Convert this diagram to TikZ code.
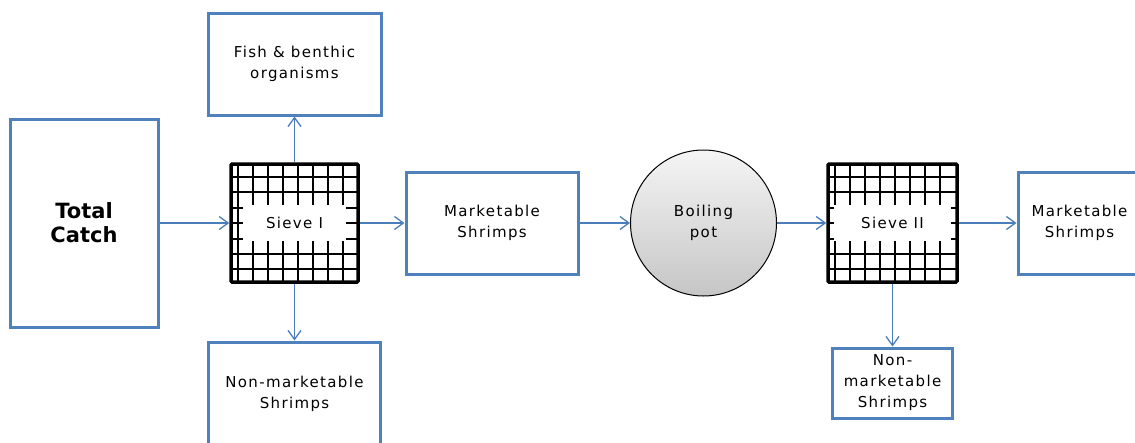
\documentclass[tikz,border=0pt]{standalone}
\usepackage{fontspec}
\setsansfont[LetterSpace=9]{DejaVu Sans}
\newfontfamily\headfont{DejaVu Sans}
\usetikzlibrary{arrows.meta}
\definecolor{boxblue}{RGB}{79,129,189}
\definecolor{flowblue}{RGB}{74,126,187}

\begin{document}
\begin{tikzpicture}[x=1pt, y=-1pt,
    flowbox/.style={draw=boxblue, line width=3pt, fill=white, inner sep=0pt, align=center,
        font=\sffamily\fontsize{15}{21}\selectfont},
    sieve/.style={draw=black, line width=3.5pt, fill=white, inner sep=0pt, rounded corners=1pt,
        minimum width=#1, minimum height=118,
        path picture={
          \foreach \i in {0,...,7}
            \draw[line width=1.9pt] ([xshift={7pt+\i*15pt}]path picture bounding box.north west)
                -- ([xshift={7pt+\i*15pt}]path picture bounding box.south west);
          \foreach \j in {0,...,6}
            \draw[line width=1.9pt] ([yshift={-13pt-\j*15.4pt}]path picture bounding box.north west)
                -- ([yshift={-13pt-\j*15.4pt}]path picture bounding box.north east);
        }},
    sievelabel/.style={fill=white, inner sep=0pt, minimum height=36,
        font=\sffamily\fontsize{15}{21}\selectfont},
    flow/.style={draw=flowblue, line width=1.3pt, -{Straight Barb[length=9pt, width=13pt]}}]
  \useasboundingbox (0,0) rectangle (1135,442);
  \clip (0,0) rectangle (1135,442);

  % boxes
  \node[flowbox, minimum width=148, minimum height=208,
        font=\headfont\bfseries\fontsize{21}{24}\selectfont] (catch) at (84,223) {Total\\Catch};
  \node[sieve=127] (sieve1) at (294.5,223) {};
  \node[sievelabel, minimum width=103] (lab1) at (sieve1) {Sieve I};
  \node[flowbox, minimum width=173, minimum height=102] (fish) at (294.5,64) {Fish \& benthic\\organisms};
  \node[flowbox, minimum width=172, minimum height=104] (waste1) at (294.5,394) {Non-marketable\\Shrimps};
  \node[flowbox, minimum width=172, minimum height=102] (market1) at (492,223) {Marketable\\Shrimps};
  \node[circle, draw=black, line width=1pt, top color=gray!8, bottom color=gray!45,
        minimum size=146, inner sep=0pt, align=center,
        font=\sffamily\fontsize{15}{21}\selectfont] (pot) at (703.5,223) {Boiling\\pot};
  \node[sieve=129] (sieve2) at (892.5,223) {};
  \node[sievelabel, minimum width=117] (lab2) at (sieve2) {Sieve II};
  \node[flowbox, minimum width=123, minimum height=102] (market2) at (1079.5,223) {Marketable\\Shrimps};
  \node[flowbox, minimum width=120, minimum height=70] (waste2) at (892.5,383) {Non-\\marketable\\Shrimps};

  % connectors
  \draw[flow] (catch) -- (sieve1);
  \draw[flow] (sieve1) -- (fish);
  \draw[flow] (sieve1) -- (waste1);
  \draw[flow] (sieve1) -- (market1);
  \draw[flow] (market1) -- (pot);
  \draw[flow] (pot) -- (sieve2);
  \draw[flow] (sieve2) -- (waste2);
  \draw[flow] (sieve2) -- (market2);
\end{tikzpicture}
\end{document}
